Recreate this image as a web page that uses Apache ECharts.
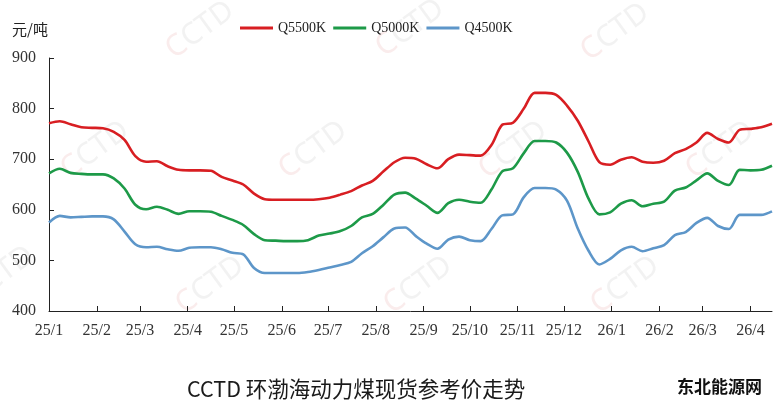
<!DOCTYPE html>
<html>
<head>
<meta charset="utf-8">
<script src="https://cdn.jsdelivr.net/npm/echarts@6/dist/echarts.min.js"></script>
<style>
  html, body { margin: 0; padding: 0; background: #fff; }
  #chart { width: 777px; height: 415px; }
</style>
</head>
<body>
<div id="chart"></div>
<script>
// 周度数据点（日期）
var dates = [
  '2025-01-01','2025-01-08','2025-01-15','2025-01-22','2025-01-29','2025-02-05','2025-02-12','2025-02-19',
  '2025-02-26','2025-03-05','2025-03-12','2025-03-19','2025-03-26','2025-04-02','2025-04-09','2025-04-16',
  '2025-04-23','2025-04-30','2025-05-07','2025-05-14','2025-05-21','2025-05-28','2025-06-04','2025-06-11',
  '2025-06-18','2025-06-25','2025-07-02','2025-07-09','2025-07-16','2025-07-23','2025-07-30','2025-08-06',
  '2025-08-13','2025-08-20','2025-08-27','2025-09-03','2025-09-10','2025-09-17','2025-09-24','2025-10-01',
  '2025-10-08','2025-10-15','2025-10-22','2025-10-29','2025-11-05','2025-11-12','2025-11-19','2025-11-26',
  '2025-12-03','2025-12-10','2025-12-17','2025-12-24','2025-12-31','2026-01-07','2026-01-14','2026-01-21',
  '2026-01-28','2026-02-04','2026-02-11','2026-02-18','2026-02-25','2026-03-04','2026-03-11','2026-03-18',
  '2026-03-25','2026-04-01','2026-04-08','2026-04-15'
];
var q5500 = [
  771,775,769,763,762,761,754,738,706,695,696,686,679,678,678,677,
  665,658,650,632,621,620,620,620,620,621,624,630,637,648,657,676,
  694,703,701,690,682,700,709,708,707,728,768,772,800,831,831,827,
  806,776,735,694,689,699,704,695,693,697,712,720,733,752,740,733,
  758,760,763,770
];
var q5000 = [
  672,681,673,671,670,670,662,642,610,601,606,600,592,597,597,596,
  588,580,570,552,540,539,538,538,540,549,553,558,568,585,592,610,
  630,634,622,608,594,613,620,616,614,640,676,682,712,736,736,733,
  713,675,622,591,595,612,619,607,612,616,638,644,658,672,657,649,
  679,678,679,687
];
var q4500 = [
  575,588,585,586,587,587,581,557,532,526,527,522,519,525,526,526,
  522,515,512,485,475,475,475,475,477,481,486,491,497,514,528,546,
  563,565,548,533,523,541,547,540,538,562,589,591,625,643,643,640,
  618,563,519,492,503,520,527,518,524,530,550,556,574,584,568,562,
  590,590,590,597
];
// 横轴刻度（每月第一天）
var monthTicks = [
  '2025-01-01','2025-02-01','2025-03-01','2025-04-01','2025-05-01','2025-06-01','2025-07-01','2025-08-01',
  '2025-09-01','2025-10-01','2025-11-01','2025-12-01','2026-01-01','2026-02-01','2026-03-01','2026-04-01'
];
var seriesNames = ['Q5500K', 'Q5000K', 'Q4500K'];
var seriesColors = ['#d81e22', '#1d9a48', '#5d96c9'];

function toTime(s) {
  var p = s.split('-');
  return new Date(+p[0], +p[1] - 1, +p[2]).getTime();
}
function pairs(vals) {
  return dates.map(function (d, i) { return [toTime(d), vals[i]]; });
}

var chart = echarts.init(document.getElementById('chart'));
var axisColor = '#222';
var serif = 'Liberation Serif';
var tickTimes = monthTicks.map(toTime);

// 水印
var marks = [
  [200, 30], [410, 28], [615, 32],
  [95, 150], [313, 150], [513, 150], [720, 150],
  [0, 275], [210, 285], [418, 285], [625, 285]
];
var graphics = marks.map(function (m) {
  return {
    type: 'text',
    x: m[0], y: m[1],
    rotation: Math.PI / 5,
    z: 0,
    silent: true,
    style: {
      text: '{a|C}{b|CTD}',
      align: 'center',
      verticalAlign: 'middle',
      rich: {
        a: { fill: 'rgba(220,120,120,0.14)', fontSize: 30, fontFamily: 'Noto Sans' },
        b: { fill: 'rgba(150,150,150,0.12)', fontSize: 30, fontFamily: 'Noto Sans' }
      }
    }
  };
});
graphics.push({
  type: 'text', left: 12, top: 22,
  style: { text: '元/吨', fontSize: 15, fontFamily: 'Noto Sans CJK SC', fill: '#222' }
});
graphics.push({
  type: 'text', left: 677, top: 378,
  style: { text: '东北能源网', fontSize: 17, fontWeight: 'bold', fontFamily: 'Noto Sans CJK SC', fill: '#111' }
});

var option = {
  animation: false,
  backgroundColor: '#fff',
  title: {
    text: 'CCTD 环渤海动力煤现货参考价走势',
    left: 182,
    top: 373,
    textStyle: { fontSize: 21.5, fontWeight: 'normal', fontFamily: 'Noto Sans CJK SC', color: '#1a1a1a' }
  },
  legend: {
    data: seriesNames,
    left: 235,
    top: 16,
    icon: 'rect',
    itemWidth: 33,
    itemHeight: 3,
    itemGap: 7,
    textStyle: { fontSize: 14, fontFamily: serif, color: '#222' }
  },
  graphic: graphics,
  grid: { left: 49, right: 5, top: 58, bottom: 104 },
  xAxis: {
    type: 'value',
    min: toTime(dates[0]),
    max: toTime(dates[dates.length - 1]),
    axisLine: { lineStyle: { color: axisColor, width: 1 } },
    axisTick: { show: true, inside: true, length: 5, lineStyle: { color: axisColor },
      customValues: tickTimes },
    axisLabel: {
      customValues: tickTimes,
      hideOverlap: false,
      margin: 12,
      fontSize: 16,
      fontFamily: serif,
      color: '#333',
      formatter: function (v) {
        var d = new Date(v);
        return String(d.getFullYear()).slice(2) + '/' + (d.getMonth() + 1);
      }
    },
    splitLine: { show: false }
  },
  yAxis: {
    type: 'value',
    min: 400,
    max: 900,
    interval: 100,
    axisLine: { show: true, lineStyle: { color: axisColor, width: 1 } },
    axisTick: { show: true, inside: true, length: 5, lineStyle: { color: axisColor } },
    axisLabel: { margin: 13, fontSize: 16, fontFamily: serif, color: '#333' },
    splitLine: { show: false }
  },
  series: seriesNames.map(function (name, i) {
    return {
      name: name,
      type: 'line',
      data: pairs([q5500, q5000, q4500][i]),
      symbol: 'none',
      smooth: 0.3,
      z: 3,
      itemStyle: { color: seriesColors[i] },
      lineStyle: { color: seriesColors[i], width: 2.6 }
    };
  })
};
chart.setOption(option);
</script>
</body>
</html>
